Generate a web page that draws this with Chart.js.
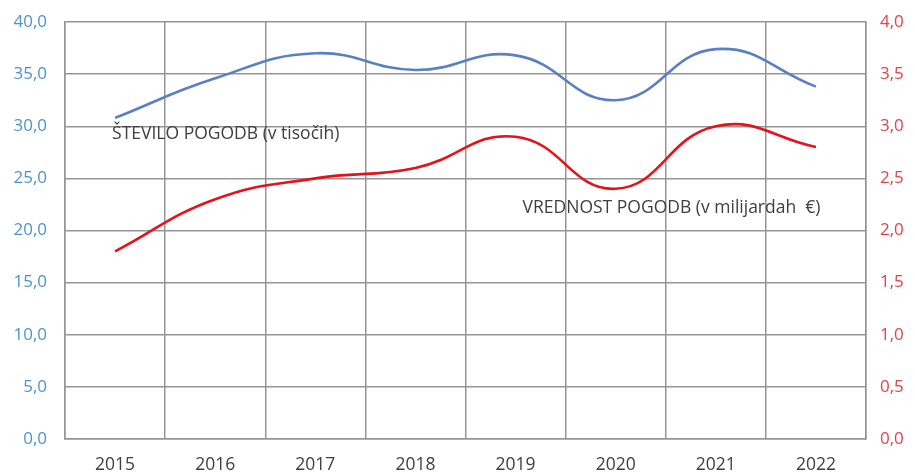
<!DOCTYPE html>
<html>
<head>
<meta charset="utf-8">
<script src="https://cdn.jsdelivr.net/npm/chart.js@4/dist/chart.umd.min.js"></script>
<style>
  html, body { margin: 0; padding: 0; background: #ffffff; }
  #wrap { width: 915px; height: 475px; }
</style>
</head>
<body>
<div id="wrap"><canvas id="c" width="915" height="475"></canvas></div>
<script>
// Years on the category axis
const years = ['2015', '2016', '2017', '2018', '2019', '2020', '2021', '2022'];
// Number of contracts (thousands) – left axis
const steviloPogodb = [30.8, 34.6, 37.0, 35.4, 36.8, 32.5, 37.4, 33.8];
// Value of contracts (billion €) – right axis
const vrednostPogodb = [1.8, 2.3, 2.5, 2.6, 2.9, 2.4, 3.0, 2.8];
// Series captions drawn inside the plot
const labelStevilo = 'ŠTEVILO POGODB (v tisočih)';
const labelVrednost = 'VREDNOST POGODB (v milijardah  €)';

const FONT = '"Open Sans", "Liberation Sans", sans-serif';
const GRID = '#959595';

const fmt = (v, d) => Number(v).toFixed(d).replace('.', ',');

// Captions anchored to data coordinates
const captions = {
  id: 'captions',
  afterDatasetsDraw(chart) {
    const { ctx, scales } = chart;
    ctx.save();
    ctx.font = '17.5px ' + FONT;
    ctx.fillStyle = '#404040';
    ctx.textBaseline = 'middle';
    ctx.textAlign = 'left';
    ctx.fillText(labelStevilo, scales.x.getPixelForValue(0) - 3, scales.y.getPixelForValue(29.3));
    ctx.fillText(labelVrednost, scales.x.getPixelForValue(4) + 7, scales.y2.getPixelForValue(2.22));
    ctx.restore();
  }
};

// Fixed axis band sizes; the top margin comes from layout padding alone
const fixWidth = w => s => { s.width = w; s.paddingTop = 0; s.paddingBottom = 0; };

new Chart(document.getElementById('c'), {
  type: 'line',
  data: {
    labels: years,
    datasets: [
      {
        label: labelStevilo,
        data: steviloPogodb,
        yAxisID: 'y',
        borderColor: '#5b7fc4',
        borderWidth: 2.6,
        pointRadius: 0,
        tension: 0.45,
        fill: false
      },
      {
        label: labelVrednost,
        data: vrednostPogodb,
        yAxisID: 'y2',
        borderColor: '#e3121c',
        borderWidth: 2.6,
        pointRadius: 0,
        tension: 0.45,
        fill: false
      }
    ]
  },
  options: {
    responsive: false,
    animation: false,
    layout: { padding: { top: 22, left: 0, right: 0, bottom: 0 } },
    plugins: { legend: { display: false }, tooltip: { enabled: false } },
    scales: {
      x: {
        offset: true,
        grid: { offset: true, color: GRID, lineWidth: 1.5, drawTicks: false },
        border: { color: GRID, width: 1.5 },
        ticks: { color: '#404040', font: { family: FONT, size: 17.5 }, padding: 16, maxRotation: 0 },
        afterFit(s) { s.height = 36; s.paddingLeft = 0; s.paddingRight = 0; }
      },
      y: {
        position: 'left',
        min: 0, max: 40,
        ticks: { stepSize: 5, color: '#4f93cc', font: { family: FONT, size: 17 }, padding: 18,
                 callback: v => fmt(v, 1) },
        grid: { color: GRID, lineWidth: 1.5, drawTicks: false },
        border: { color: GRID, width: 1.5 },
        afterFit: fixWidth(65)
      },
      y2: {
        position: 'right',
        min: 0, max: 4,
        ticks: { stepSize: 0.5, color: '#e0434c', font: { family: FONT, size: 17 }, padding: 14,
                 callback: v => fmt(v, 1) },
        grid: { display: false, drawTicks: false },
        border: { color: GRID, width: 1.5 },
        afterFit: fixWidth(49)
      }
    }
  },
  plugins: [captions]
});
</script>
</body>
</html>
